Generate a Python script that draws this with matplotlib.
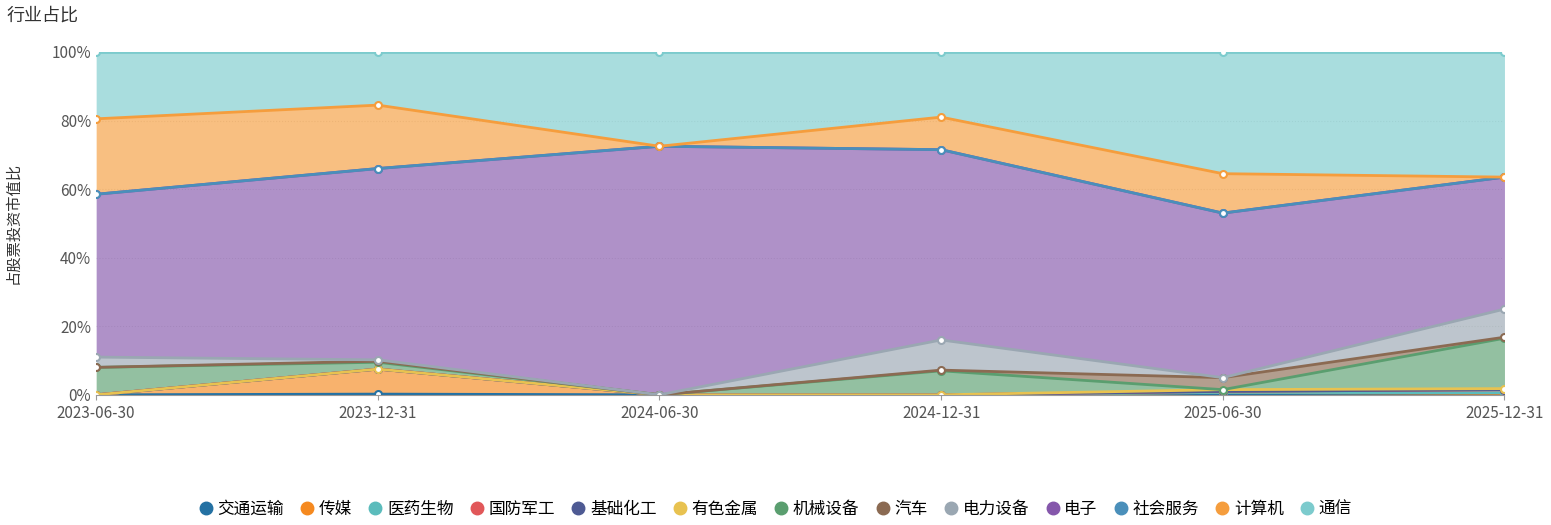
import matplotlib.pyplot as plt
import numpy as np

plt.rcParams['font.family'] = ['Noto Sans CJK SC', 'DejaVu Sans']

dates = ['2023-06-30', '2023-12-31', '2024-06-30', '2024-12-31', '2025-06-30', '2025-12-31']
names = ['交通运输', '传媒', '医药生物', '国防军工', '基础化工', '有色金属', '机械设备',
         '汽车', '电力设备', '电子', '社会服务', '计算机', '通信']
colors = ['#2471a3', '#f5891f', '#5bbcbc', '#e15759', '#4e5a93', '#e8c250', '#5a9e6f',
          '#8b6a52', '#9aa7b2', '#8557ab', '#4a8fba', '#f59d3d', '#7ccbcd']

# share of each industry (%)
jiaotong = [0, 0.2, 0, 0, 0.3, 0]
chuanmei = [0, 7.3, 0, 0, 0.4, 0.4]
yiyao = [0, 0, 0, 0, 0, 0.2]
guofang = [0, 0, 0, 0, 0.3, 0.9]
jichu = [0, 0, 0, 0, 0, 0]
youse = [0, 0, 0, 0, 0.5, 0.3]
jixie = [8, 2, 0, 7, 0, 14.7]
qiche = [0, 0.3, 0, 0.2, 3.5, 0.3]
dianli = [3, 0.4, 0, 8.8, 0, 8.2]
dianzi = [47.5, 55.8, 72.5, 55.5, 48, 38.5]
shehui = [0, 0, 0, 0, 0, 0]
jisuanji = [22, 18.5, 0, 9.5, 11.5, 0]
tongxin = [19.5, 15.5, 27.5, 19, 35.5, 36.5]

series = [jiaotong, chuanmei, yiyao, guofang, jichu, youse, jixie,
          qiche, dianli, dianzi, shehui, jisuanji, tongxin]

fig = plt.figure(figsize=(15.51, 5.25), dpi=100)
ax = fig.add_axes([0.062, 0.248, 0.908, 0.653])
x = np.arange(len(dates))
cum = np.cumsum(np.array(series, dtype=float), axis=0)
bottom = np.zeros(len(dates))
for i, name in enumerate(names):
    top = cum[i]
    ax.fill_between(x, bottom, top, color=colors[i], alpha=0.65, lw=0)
    ax.plot(x, top, color=colors[i], lw=2, marker='o', ms=5,
            mfc='white', mec=colors[i], mew=1.5, label=name)
    bottom = top

ax.set_xlim(0, len(dates) - 1)
ax.set_ylim(0, 100)
ax.set_xticks(x)
ax.set_xticklabels(dates, fontsize=11, color='#555555')
ax.set_yticks([0, 20, 40, 60, 80, 100])
ax.set_yticklabels(['0%', '20%', '40%', '60%', '80%', '100%'], fontsize=11, color='#555555')
ax.yaxis.grid(True, color='#e0e0e0', ls=':')
ax.set_axisbelow(True)
for s in ['top', 'right', 'left']:
    ax.spines[s].set_visible(False)
ax.spines['bottom'].set_color('#999999')
ax.tick_params(axis='y', length=0)
ax.tick_params(axis='x', color='#999999')
ax.set_ylabel('占股票投资市值比', fontsize=11, color='#333333')
ax.yaxis.set_label_coords(-0.053, 0.5)
fig.text(0.004, 0.96, '行业占比', fontsize=13, color='#333333')

fig.legend(loc='lower center', ncol=13, frameon=False, fontsize=12,
           bbox_to_anchor=(0.5, -0.015), handlelength=0.8, handletextpad=0.3,
           columnspacing=1.0,
           handles=[plt.Line2D([], [], marker='o', ls='', color=c, ms=9) for c in colors],
           labels=names)
fig.savefig('out.png')
